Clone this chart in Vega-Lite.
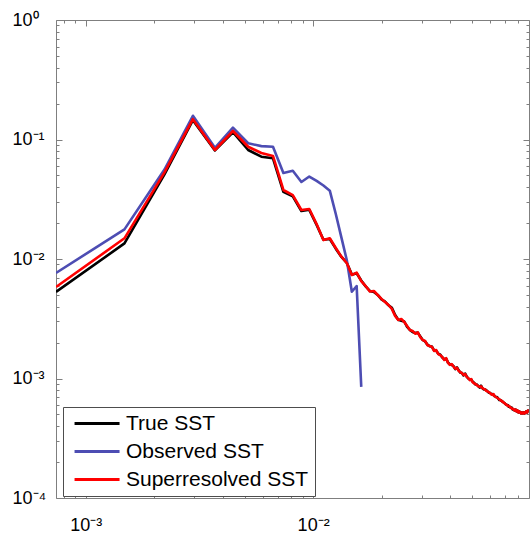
{
"$schema": "https://vega.github.io/schema/vega-lite/v6.json",
"width": 473, "height": 478,
"autosize": "none",
"padding": {"left": 56, "top": 20, "right": 2, "bottom": 38},
"background": "white",
"config": {
  "font": "Liberation Sans",
  "view": {"stroke": "#7f7f7f", "strokeWidth": 1},
  "axis": {"domain": false, "grid": false, "tickColor": "#7f7f7f", "tickWidth": 1,
    "labelFontSize": 18, "labelColor": "black", "labelOverlap": false, "labelFlush": false, "labelFont": "Liberation Sans"}
},
"data": {"values": [
{"k":0.00074,"True SST":0.0053,"Observed SST":0.00764,"Superresolved SST":0.00583},
{"k":0.00148,"True SST":0.0135,"Observed SST":0.0177,"Superresolved SST":0.0149},
{"k":0.00222,"True SST":0.051,"Observed SST":0.056,"Superresolved SST":0.053},
{"k":0.00296,"True SST":0.145,"Observed SST":0.158,"Superresolved SST":0.148},
{"k":0.0037,"True SST":0.081,"Observed SST":0.0853,"Superresolved SST":0.0817},
{"k":0.00444,"True SST":0.115,"Observed SST":0.1255,"Superresolved SST":0.1178},
{"k":0.00518,"True SST":0.0817,"Observed SST":0.093,"Superresolved SST":0.087},
{"k":0.00592,"True SST":0.0718,"Observed SST":0.088,"Superresolved SST":0.0771},
{"k":0.00666,"True SST":0.0696,"Observed SST":0.087,"Superresolved SST":0.0728},
{"k":0.0074,"True SST":0.0365,"Observed SST":0.0525,"Superresolved SST":0.0378},
{"k":0.00814,"True SST":0.0335,"Observed SST":0.0548,"Superresolved SST":0.0343},
{"k":0.00888,"True SST":0.0252,"Observed SST":0.0441,"Superresolved SST":0.0257},
{"k":0.00962,"True SST":0.0258,"Observed SST":0.049,"Superresolved SST":0.0262},
{"k":0.01036,"True SST":0.0193,"Observed SST":0.045,"Superresolved SST":0.0196},
{"k":0.0111,"True SST":0.0145,"Observed SST":0.0412,"Superresolved SST":0.0144},
{"k":0.01184,"True SST":0.0147,"Observed SST":0.0373,"Superresolved SST":0.0149},
{"k":0.01258,"True SST":0.0122,"Observed SST":0.0238,"Superresolved SST":0.01235},
{"k":0.01332,"True SST":0.0104,"Observed SST":0.0151,"Superresolved SST":0.01045},
{"k":0.01406,"True SST":0.0093,"Observed SST":0.0098,"Superresolved SST":0.00926},
{"k":0.0148,"True SST":0.0074,"Observed SST":0.00532,"Superresolved SST":0.00735},
{"k":0.01554,"True SST":0.0076,"Observed SST":0.00594,"Superresolved SST":0.00768},
{"k":0.01628,"True SST":0.0066,"Observed SST":0.00085,"Superresolved SST":0.00654},
{"k":0.01702,"True SST":0.0059,"Superresolved SST":0.00594},
{"k":0.01776,"True SST":0.0054,"Superresolved SST":0.00535},
{"k":0.0185,"True SST":0.0053,"Superresolved SST":0.0054},
{"k":0.01924,"True SST":0.005,"Superresolved SST":0.005},
{"k":0.01998,"True SST":0.0046,"Superresolved SST":0.00463},
{"k":0.02072,"True SST":0.0044,"Superresolved SST":0.00437},
{"k":0.02146,"True SST":0.0041,"Superresolved SST":0.00412},
{"k":0.0222,"True SST":0.0039,"Superresolved SST":0.00382},
{"k":0.02294,"True SST":0.0034,"Superresolved SST":0.00334},
{"k":0.02368,"True SST":0.0031,"Superresolved SST":0.00309},
{"k":0.02442,"True SST":0.00305,"Superresolved SST":0.00315},
{"k":0.02516,"True SST":0.003,"Superresolved SST":0.00297},
{"k":0.0259,"True SST":0.0027,"Superresolved SST":0.00275},
{"k":0.02664,"True SST":0.00255,"Superresolved SST":0.00255},
{"k":0.02738,"True SST":0.00245,"Superresolved SST":0.0025},
{"k":0.02812,"True SST":0.0024,"Superresolved SST":0.00237},
{"k":0.02886,"True SST":0.00242,"Superresolved SST":0.00243},
{"k":0.0296,"True SST":0.00225,"Superresolved SST":0.00222},
{"k":0.03034,"True SST":0.0021,"Superresolved SST":0.0021},
{"k":0.03108,"True SST":0.00204,"Superresolved SST":0.00206},
{"k":0.03182,"True SST":0.00192,"Superresolved SST":0.0019},
{"k":0.03256,"True SST":0.00186,"Superresolved SST":0.00187},
{"k":0.0333,"True SST":0.00185,"Superresolved SST":0.00184},
{"k":0.03404,"True SST":0.00172,"Superresolved SST":0.0017},
{"k":0.03478,"True SST":0.00171,"Superresolved SST":0.00173},
{"k":0.03552,"True SST":0.00161,"Superresolved SST":0.0016},
{"k":0.03626,"True SST":0.00158,"Superresolved SST":0.00157},
{"k":0.037,"True SST":0.0015,"Superresolved SST":0.00151},
{"k":0.03774,"True SST":0.00145,"Superresolved SST":0.00143},
{"k":0.03848,"True SST":0.00146,"Superresolved SST":0.00148},
{"k":0.03922,"True SST":0.00136,"Superresolved SST":0.00135},
{"k":0.03996,"True SST":0.00131,"Superresolved SST":0.0013},
{"k":0.0407,"True SST":0.0013,"Superresolved SST":0.00132},
{"k":0.04144,"True SST":0.00127,"Superresolved SST":0.00126},
{"k":0.04218,"True SST":0.0012,"Superresolved SST":0.00121},
{"k":0.04292,"True SST":0.00124,"Superresolved SST":0.00123},
{"k":0.04366,"True SST":0.00117,"Superresolved SST":0.00116},
{"k":0.0444,"True SST":0.00112,"Superresolved SST":0.00113},
{"k":0.04514,"True SST":0.00111,"Superresolved SST":0.00111},
{"k":0.04588,"True SST":0.00106,"Superresolved SST":0.00107},
{"k":0.04662,"True SST":0.0011,"Superresolved SST":0.00109},
{"k":0.04736,"True SST":0.00104,"Superresolved SST":0.00103},
{"k":0.0481,"True SST":0.001,"Superresolved SST":0.00101},
{"k":0.04884,"True SST":0.00098,"Superresolved SST":0.00097},
{"k":0.04958,"True SST":0.00098,"Superresolved SST":0.00099},
{"k":0.05032,"True SST":0.00094,"Superresolved SST":0.00093},
{"k":0.05106,"True SST":0.00092,"Superresolved SST":0.00091},
{"k":0.0518,"True SST":0.00089,"Superresolved SST":0.0009},
{"k":0.05254,"True SST":0.00089,"Superresolved SST":0.00088},
{"k":0.05328,"True SST":0.00086,"Superresolved SST":0.00086},
{"k":0.05402,"True SST":0.00084,"Superresolved SST":0.00085},
{"k":0.05476,"True SST":0.00087,"Superresolved SST":0.00086},
{"k":0.0555,"True SST":0.00083,"Superresolved SST":0.00083},
{"k":0.05624,"True SST":0.00081,"Superresolved SST":0.00082},
{"k":0.05698,"True SST":0.00081,"Superresolved SST":0.00081},
{"k":0.05772,"True SST":0.0008,"Superresolved SST":0.00079},
{"k":0.05846,"True SST":0.00078,"Superresolved SST":0.00078},
{"k":0.0592,"True SST":0.00076,"Superresolved SST":0.00077},
{"k":0.05994,"True SST":0.00076,"Superresolved SST":0.000757},
{"k":0.06068,"True SST":0.00074,"Superresolved SST":0.00074},
{"k":0.06142,"True SST":0.00074,"Superresolved SST":0.00073},
{"k":0.06216,"True SST":0.00073,"Superresolved SST":0.00074},
{"k":0.0629,"True SST":0.00071,"Superresolved SST":0.00071},
{"k":0.06364,"True SST":0.0007,"Superresolved SST":0.0007},
{"k":0.06438,"True SST":0.0007,"Superresolved SST":0.00069},
{"k":0.06512,"True SST":0.00068,"Superresolved SST":0.00068},
{"k":0.06586,"True SST":0.00066,"Superresolved SST":0.00067},
{"k":0.0666,"True SST":0.00066,"Superresolved SST":0.00066},
{"k":0.06734,"True SST":0.00065,"Superresolved SST":0.00065},
{"k":0.06808,"True SST":0.00064,"Superresolved SST":0.00064},
{"k":0.06882,"True SST":0.00063,"Superresolved SST":0.00063},
{"k":0.06956,"True SST":0.00062,"Superresolved SST":0.00062},
{"k":0.0703,"True SST":0.00061,"Superresolved SST":0.00061},
{"k":0.07104,"True SST":0.0006,"Superresolved SST":0.0006},
{"k":0.07178,"True SST":0.0006,"Superresolved SST":0.00059},
{"k":0.07252,"True SST":0.00058,"Superresolved SST":0.00059},
{"k":0.07326,"True SST":0.00058,"Superresolved SST":0.00058},
{"k":0.074,"True SST":0.00057,"Superresolved SST":0.00057},
{"k":0.07474,"True SST":0.00057,"Superresolved SST":0.00056},
{"k":0.07548,"True SST":0.00055,"Superresolved SST":0.00056},
{"k":0.07622,"True SST":0.00055,"Superresolved SST":0.00055},
{"k":0.07696,"True SST":0.00054,"Superresolved SST":0.00054},
{"k":0.0777,"True SST":0.00055,"Superresolved SST":0.00055},
{"k":0.07844,"True SST":0.00053,"Superresolved SST":0.00053},
{"k":0.07918,"True SST":0.00054,"Superresolved SST":0.00054},
{"k":0.07992,"True SST":0.00052,"Superresolved SST":0.00052},
{"k":0.08066,"True SST":0.00053,"Superresolved SST":0.00053},
{"k":0.0814,"True SST":0.00052,"Superresolved SST":0.00052},
{"k":0.08214,"True SST":0.00051,"Superresolved SST":0.00051},
{"k":0.08288,"True SST":0.00052,"Superresolved SST":0.00052},
{"k":0.08362,"True SST":0.00051,"Superresolved SST":0.00051},
{"k":0.08436,"True SST":0.00052,"Superresolved SST":0.00052},
{"k":0.0851,"True SST":0.00051,"Superresolved SST":0.00051},
{"k":0.08584,"True SST":0.00052,"Superresolved SST":0.00052},
{"k":0.08658,"True SST":0.00053,"Superresolved SST":0.00053},
{"k":0.08732,"True SST":0.00052,"Superresolved SST":0.00052},
{"k":0.08806,"True SST":0.00054,"Superresolved SST":0.00054},
{"k":0.0888,"True SST":0.00054,"Superresolved SST":0.00054}
]},
"transform": [
  {"fold": ["True SST", "Observed SST", "Superresolved SST"], "as": ["series", "v"]},
  {"filter": "isValid(datum.v)"}
],
"layer": [
  {
    "mark": {"type": "line", "strokeWidth": 2.6, "clip": true, "strokeJoin": "round"},
    "encoding": {
      "x": {"field": "k", "type": "quantitative",
        "scale": {"type": "log", "domain": [0.00074, 0.089], "nice": false},
        "axis": {"orient": "bottom", "title": null, "ticks": false,
          "values": [0.001, 0.01],
          "labelExpr": "datum.value===0.001?'10⁻³':'10⁻²'",
          "labelPadding": 32, "labelBaseline": "alphabetic"}},
      "y": {"field": "v", "type": "quantitative",
        "scale": {"type": "log", "domain": [0.0001, 1], "nice": false},
        "axis": {"orient": "left", "title": null, "ticks": false,
          "values": [0.0001, 0.001, 0.01, 0.1, 1],
          "labelExpr": "datum.value===1?'10⁰':datum.value===0.1?'10⁻¹':datum.value===0.01?'10⁻²':datum.value===0.001?'10⁻³':'10⁻⁴'",
          "labelPadding": 44, "labelAlign": "left", "labelBaseline": "middle"}},
      "color": {"field": "series", "type": "nominal",
        "scale": {"domain": ["True SST", "Observed SST", "Superresolved SST"], "range": ["#000000", "#4d4db3", "#ff0000"]},
        "legend": {"orient": "none", "legendX": 7, "legendY": 387, "title": null,
          "strokeColor": "#4d4d4d", "fillColor": "white", "padding": 6,
          "symbolType": "M-0.55,0H4.45", "symbolSize": 324, "symbolStrokeWidth": 3,
          "labelFontSize": 21, "labelFont": "Liberation Sans", "labelColor": "black", "labelOffset": 36, "rowPadding": 6, "labelLimit": 400}}
    }
  },
  {
    "mark": {"type": "point", "opacity": 0},
    "encoding": {
      "x": {"field": "k", "type": "quantitative",
        "axis": {"orient": "bottom", "title": null, "labels": false, "tickSize": -6, "values": [0.001, 0.01]}},
      "y": {"field": "v", "type": "quantitative",
        "axis": {"orient": "left", "title": null, "labels": false, "tickSize": -6, "values": [0.0001, 0.001, 0.01, 0.1, 1]}}
    }
  },
  {
    "mark": {"type": "point", "opacity": 0},
    "encoding": {
      "x": {"field": "k", "type": "quantitative",
        "axis": {"orient": "bottom", "title": null, "labels": false, "tickSize": -3,
          "values": [0.0008,0.0009,0.002,0.003,0.004,0.005,0.006,0.007,0.008,0.009,0.02,0.03,0.04,0.05,0.06,0.07,0.08]}},
      "y": {"field": "v", "type": "quantitative",
        "axis": {"orient": "left", "title": null, "labels": false, "tickSize": -3,
          "values": [0.0002,0.0003,0.0004,0.0005,0.0006,0.0007,0.0008,0.0009,0.002,0.003,0.004,0.005,0.006,0.007,0.008,0.009,0.02,0.03,0.04,0.05,0.06,0.07,0.08,0.09,0.2,0.3,0.4,0.5,0.6,0.7,0.8,0.9]}}
    }
  },
  {
    "mark": {"type": "point", "opacity": 0},
    "encoding": {
      "x": {"field": "k", "type": "quantitative",
        "axis": {"orient": "top", "title": null, "labels": false, "tickSize": -6, "values": [0.001, 0.01]}},
      "y": {"field": "v", "type": "quantitative",
        "axis": {"orient": "right", "title": null, "labels": false, "tickSize": -6, "values": [0.0001, 0.001, 0.01, 0.1, 1]}}
    }
  },
  {
    "mark": {"type": "point", "opacity": 0},
    "encoding": {
      "x": {"field": "k", "type": "quantitative",
        "axis": {"orient": "top", "title": null, "labels": false, "tickSize": -3,
          "values": [0.0008,0.0009,0.002,0.003,0.004,0.005,0.006,0.007,0.008,0.009,0.02,0.03,0.04,0.05,0.06,0.07,0.08]}},
      "y": {"field": "v", "type": "quantitative",
        "axis": {"orient": "right", "title": null, "labels": false, "tickSize": -3,
          "values": [0.0002,0.0003,0.0004,0.0005,0.0006,0.0007,0.0008,0.0009,0.002,0.003,0.004,0.005,0.006,0.007,0.008,0.009,0.02,0.03,0.04,0.05,0.06,0.07,0.08,0.09,0.2,0.3,0.4,0.5,0.6,0.7,0.8,0.9]}}
    }
  }
],
"resolve": {"axis": {"x": "independent", "y": "independent"}}
}
